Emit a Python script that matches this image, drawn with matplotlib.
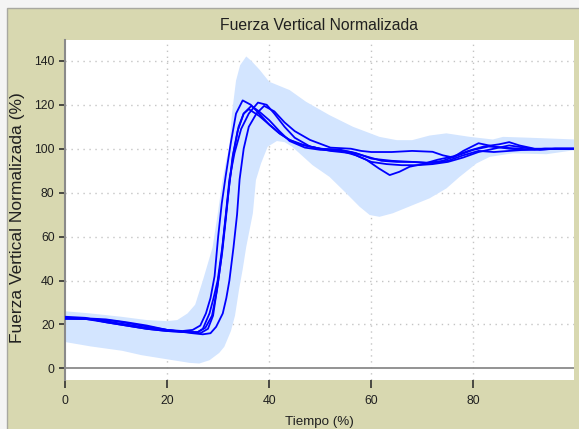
import numpy as np
import matplotlib
matplotlib.use("Agg")
import matplotlib.pyplot as plt
from matplotlib.patches import Rectangle

plt.rcParams['font.family'] = ['Liberation Sans', 'DejaVu Sans']

# ---- data ----
title = "Fuerza Vertical Normalizada"
xlabel = "Tiempo (%)"
ylabel = "Fuerza Vertical Normalizada (%)"
xticks = [0, 20, 40, 60, 80]
yticks = [0, 20, 40, 60, 80, 100, 120, 140]

band_up_x = [0, 5, 11, 16, 20, 22, 24, 25.5, 27, 28.9, 29.9, 30.8, 31.6, 32.2, 32.7,
             33.5, 34.3, 35.5, 36.5, 38.1, 40, 44, 47.2, 51.8, 56.4, 61.6, 65, 68,
             71.4, 74.7, 79.3, 83.8, 85.8, 91, 100]
band_up_y = [26, 25, 23.5, 22, 21.5, 22, 25, 29, 40, 55, 70, 85, 95, 101, 116,
             131, 138, 142, 140, 136, 130.5, 126.7, 121.4, 115.3, 110, 105.4, 103.9, 103.9,
             106, 107, 105.4, 104.2, 105.4, 105, 104.2]
band_lo_x = [0, 5, 11.2, 15, 19.8, 24.4, 26.3, 28.3, 30.2, 31.2, 32.5, 33.3, 34.1,
             34.8, 35.5, 36.8, 37.4, 38.4, 39.7, 41.5, 43, 44.5, 48.5, 51.8, 55.1,
             57.7, 59.7, 61.6, 64.2, 68.1, 71.4, 74.7, 77.3, 80.6, 83.2, 87.7, 94.3, 100]
band_lo_y = [12, 10, 8, 6, 4.2, 2.5, 2.2, 3.7, 7, 9.8, 17, 24, 36,
             45, 55.3, 70.6, 85.7, 93.3, 100.9, 103.5, 103, 100.9, 92.5, 87.2, 79.7,
             73.6, 69.8, 69, 70.6, 74.3, 77.4, 81.9, 87.2, 93.3, 96.3, 97.9, 97.5, 99.4]

c1_x = [0, 4, 8, 12, 16, 20, 23, 25, 26.5, 27.6, 28.5, 29.3, 30.0, 30.7, 31.5, 32.5,
        33.5, 34.8, 36.4, 38, 40, 42, 44, 47, 50, 53, 56, 59, 62, 65, 68, 71, 74, 77,
        80, 83, 86, 89, 92, 96, 100]
c1_y = [23, 22.5, 21.5, 20, 18.5, 17.5, 17, 17.5, 19.5, 25, 32, 42, 60, 75, 88, 103,
        116, 122, 120, 116, 111, 107, 104, 101.5, 100, 99.5, 98.5, 96.5, 94.5, 94, 94,
        93.5, 94.5, 97, 99.5, 101, 100.5, 100, 99.5, 100, 100]

c2_x = [0, 4, 8, 12, 16, 20, 24, 26, 27, 28.3, 29.1, 29.9, 30.8, 31.5, 32.2, 33.2,
        34.5, 36, 37.8, 39.5, 41, 43, 45, 48, 52, 56, 59, 61.5, 63.6, 65.5, 67.5, 70,
        73, 76, 79, 82, 85, 87, 89, 92, 96, 100]
c2_y = [23.5, 23, 21, 19.5, 18, 17, 16.5, 16.5, 18, 25, 32, 40, 55, 70, 86, 98,
        109, 116, 121, 120, 116, 110, 105, 101, 99, 98, 95, 91, 88, 89.5, 91.8, 93,
        95, 96.5, 99, 101, 102, 103, 101.5, 100, 100, 100]

c3_x = [0, 4, 8, 12, 16, 20, 24, 26.5, 28, 29, 29.9, 30.8, 31.5, 32.2, 33, 34, 35,
        36, 38, 40, 42, 44, 46, 50, 54, 57, 60, 64, 68, 72, 75, 78, 81, 84, 87, 90,
        94, 100]
c3_y = [22.8, 22.8, 22.3, 21, 19.5, 17.5, 16.5, 16, 18, 24, 38, 53, 68, 84, 98, 110,
        116, 118, 115, 111, 107, 104, 102, 100, 99.5, 98, 95.5, 94.5, 94, 93.5, 94.5,
        97, 99, 98.5, 99, 99.5, 100, 100]

c4_x = [0, 5, 10, 15, 20, 25, 27, 28.5, 29.6, 30.9, 31.6, 32.2, 33, 33.7, 34.2, 35,
        36, 37.5, 39, 41, 43, 45, 48, 52, 56, 58, 60, 64, 68, 72, 74, 76, 78, 81, 84,
        87, 90, 94, 100]
c4_y = [22.5, 22.5, 21.5, 19.5, 17.5, 16, 15.5, 16, 18.9, 25, 32, 40, 55, 70, 86,
        100, 110, 116, 119.5, 117, 112, 108, 104, 100.5, 100, 99, 98.5, 98.5, 99,
        98.6, 97, 96, 99, 102.5, 101, 100, 99.5, 100, 100]

c5_x = [0, 4, 8, 12, 16, 20, 24, 26, 27.5, 28.8, 29.8, 30.6, 31.3, 32, 32.8, 33.8,
        35, 36.5, 38, 40, 42, 44, 47, 50, 54, 57, 60, 63, 66, 69, 72, 75, 78, 81, 84,
        87, 90, 93, 96, 100]
c5_y = [22.8, 22.5, 21, 19.5, 18, 17, 16.5, 16.5, 18.5, 24, 36, 50, 65, 80, 96, 108,
        116, 119.5, 117, 113, 108, 103.5, 100.5, 99.5, 99, 97, 94, 93, 92.5, 92.5,
        93, 94, 96, 98.5, 100, 101.5, 100.5, 99.5, 100, 100]

curves = [(c1_x, c1_y), (c2_x, c2_y), (c3_x, c3_y), (c4_x, c4_y), (c5_x, c5_y)]

# ---- figure ----
W, H = 579, 429
fig = plt.figure(figsize=(W / 100, H / 100), dpi=100)
fig.patch.set_facecolor('#F4F4F4')
fig.add_artist(Rectangle((7 / W, -0.01), 1.0, (H - 8) / H + 0.01, transform=fig.transFigure,
                         facecolor='#D8D8B0', edgecolor='#A8A8A0', lw=1.0, zorder=0))

ax = fig.add_axes([65 / W, 1 - 380 / H, (574 - 65) / W, (380 - 40) / H])
ax.set_facecolor('white')

ax.fill(np.concatenate([band_up_x, band_lo_x[::-1]]),
        np.concatenate([band_up_y, band_lo_y[::-1]]),
        color='#D3E5FF', lw=0, zorder=1)

for cx, cy in curves:
    ax.plot(cx, cy, color='#0000FF', lw=1.3, zorder=3, solid_joinstyle='round')

ax.set_xlim(0, 99.7)
ax.set_ylim(-5.3, 149.5)
ax.set_xticks(xticks)
ax.set_yticks(yticks)

for v in xticks[1:]:
    ax.axvline(v, color='#C4C4C4', lw=1.0, ls=(0, (1, 3.3)), zorder=0.5)
for v in yticks[1:]:
    ax.axhline(v, color='#C4C4C4', lw=1.0, ls=(0, (1, 3.3)), zorder=0.5)
ax.axhline(0, color='#8A8A8A', lw=1.3, zorder=2)

for s in ['top', 'right', 'bottom']:
    ax.spines[s].set_visible(False)
ax.spines['left'].set_color('#8A8A8A')
ax.spines['left'].set_linewidth(1.5)

ax.tick_params(axis='y', direction='out', length=4.5, width=1.2, color='#303030',
               labelsize=8.8, labelcolor='#202020', pad=3)
ax.tick_params(axis='x', direction='out', length=6, width=1.2, color='#303030',
               labelsize=8.8, labelcolor='#202020', pad=5)

fig.text(319 / W, 1 - 25 / H, title, ha='center', va='center', fontsize=11.3, color='#202020')
fig.text(18 / W, 1 - 218 / H, ylabel, ha='center', va='center', rotation=90,
         fontsize=12.5, color='#202020')
fig.text(319 / W, 0.6 / H, xlabel, ha='center', va='bottom', fontsize=9.6, color='#202020')

fig.savefig('out.png', dpi=100, facecolor=fig.get_facecolor())
